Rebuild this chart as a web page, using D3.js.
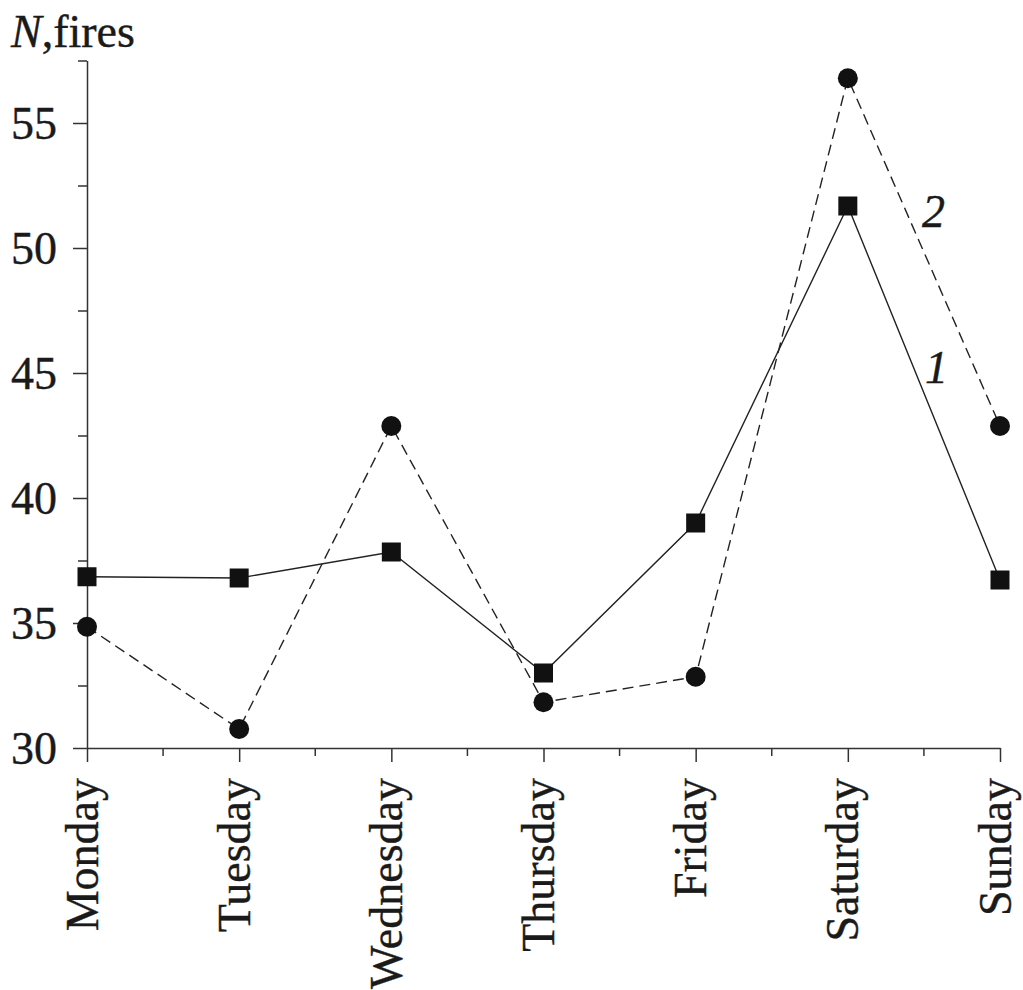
<!DOCTYPE html>
<html>
<head>
<meta charset="utf-8">
<script src="https://cdn.jsdelivr.net/npm/d3@7"></script>
<style>
  body { margin: 0; background: #fff; }
  svg { display: block; }
</style>
</head>
<body>
<svg id="chart" width="1023" height="990"></svg>
<script>
const days = ["Monday", "Tuesday", "Wednesday", "Thursday", "Friday", "Saturday", "Sunday"];
const series1 = [36.85, 36.8, 37.84, 33.0, 39.0, 51.68, 36.72];   // squares, solid (1)
const series2 = [34.85, 30.76, 42.88, 31.83, 32.85, 56.79, 42.88]; // circles, dashed (2)
const yMajorTicks = [30, 35, 40, 45, 50, 55];
const yMinorTicks = [32.5, 37.5, 42.5, 47.5, 52.5, 57.5];
const yDomain = [30, 57.5];

const FONT = "'Liberation Serif'";
const textColor = "#1a1a1a";
const svg = d3.select("#chart");
const plotLeft = 87, plotRight = 1000, plotTop = 60.5, plotBottom = 748;
const axisColor = "#333";

const x = d3.scalePoint().domain(days).range([plotLeft, plotRight]).padding(0);
const y = d3.scaleLinear().domain(yDomain).range([plotBottom, plotTop]);

function styleText(sel) {
  sel.attr("font-family", FONT).attr("font-size", 46).attr("fill", textColor)
     .attr("stroke", textColor).attr("stroke-width", 0.4);
}

// Y axis minor ticks
svg.append("g").attr("transform", `translate(${plotLeft},0)`)
  .call(d3.axisLeft(y).tickValues(yMinorTicks).tickSize(9).tickSizeOuter(0).tickFormat(""))
  .call(g => g.select(".domain").remove())
  .call(g => g.selectAll("line").attr("stroke", axisColor).attr("stroke-width", 1.5));

// Y axis major
svg.append("g").attr("transform", `translate(${plotLeft},0)`)
  .call(d3.axisLeft(y).tickValues(yMajorTicks).tickSize(14).tickSizeOuter(0).tickPadding(16))
  .call(g => g.attr("font-family", FONT).attr("font-size", 46))
  .call(g => g.select(".domain").attr("stroke", axisColor).attr("stroke-width", 1.5))
  .call(g => g.selectAll("line").attr("stroke", axisColor).attr("stroke-width", 1.5))
  .call(g => g.selectAll("text").call(styleText).attr("dy", "0.34em"));

// X axis minor ticks at midpoints
const mids = days.slice(1).map((d, i) => (x(days[i]) + x(d)) / 2);
svg.append("g").selectAll("line").data(mids).join("line")
  .attr("x1", d => d).attr("x2", d => d)
  .attr("y1", plotBottom).attr("y2", plotBottom + 8)
  .attr("stroke", axisColor).attr("stroke-width", 1.5);

// X axis major
svg.append("g").attr("transform", `translate(0,${plotBottom})`)
  .call(d3.axisBottom(x).tickSize(14).tickSizeOuter(0))
  .call(g => g.attr("font-family", FONT).attr("font-size", 46))
  .call(g => g.select(".domain").attr("stroke", axisColor).attr("stroke-width", 1.5))
  .call(g => g.selectAll("line").attr("stroke", axisColor).attr("stroke-width", 1.5))
  .call(g => g.selectAll("text").call(styleText)
    .attr("transform", "rotate(-90)")
    .attr("text-anchor", "end")
    .attr("x", -30).attr("y", 0).attr("dy", "0.22em"));

// Lines
const line = d3.line().x((d, i) => x(days[i])).y(d => y(d));
svg.append("path").datum(series2).attr("d", line)
  .attr("fill", "none").attr("stroke", "#222").attr("stroke-width", 1.4)
  .attr("stroke-dasharray", "11,6");
svg.append("path").datum(series1).attr("d", line)
  .attr("fill", "none").attr("stroke", "#222").attr("stroke-width", 1.4);

// Markers
svg.append("g").selectAll("circle").data(series2).join("circle")
  .attr("cx", (d, i) => x(days[i])).attr("cy", d => y(d)).attr("r", 10)
  .attr("fill", "#111");
const sq = 19;
svg.append("g").selectAll("rect").data(series1).join("rect")
  .attr("x", (d, i) => x(days[i]) - sq / 2).attr("y", d => y(d) - sq / 2)
  .attr("width", sq).attr("height", sq).attr("fill", "#111");

// Axis title
const title = svg.append("text").attr("x", 11).attr("y", 47).call(styleText);
title.append("tspan").attr("font-style", "italic").text("N");
title.append("tspan").text(",fires");

// Series labels
svg.append("text").attr("x", 922).attr("y", 227).call(styleText).attr("font-style", "italic").text("2");
svg.append("text").attr("x", 925).attr("y", 383).call(styleText).attr("font-style", "italic").text("1");
</script>
</body>
</html>
